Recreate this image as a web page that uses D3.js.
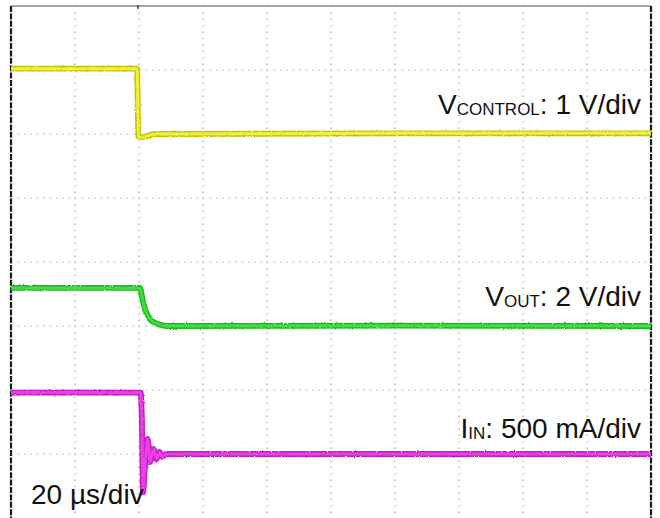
<!DOCTYPE html>
<html>
<head>
<meta charset="utf-8">
<script src="https://cdn.jsdelivr.net/npm/d3@7/dist/d3.min.js"></script>
<style>
  html, body { margin: 0; padding: 0; background: #fff; }
  svg { display: block; }
  text { font-family: "Liberation Sans", Arial, sans-serif; fill: #111; }
</style>
</head>
<body>
<svg id="scope" width="660" height="518"></svg>
<script>
// Time base: 10 divisions of 20 µs; vertical: 8 divisions
const timeDivisions = 10;
const usPerDiv = 20;
const verticalDivisions = 8;

// VCONTROL (1 V/div, ground at division 6)
const controlTimeUs = [0, 39.4, 39.8, 41, 45, 120, 200];
const controlVolts  = [1.02, 1.02, -0.04, -0.05, 0.0, 0.01, 0.01];

// VOUT (2 V/div, ground at division 3)
const outTimeUs = [0, 40.3, 40.9, 41.6, 42.5, 43.4, 45, 46.6, 48.8, 120, 200];
const outVolts  = [1.19, 1.19, 0.94, 0.62, 0.38, 0.22, 0.10, 0.04, 0.0, 0.01, 0.0];

// IIN (500 mA/div, ground at division 1)
const inTimeUs = [0, 40.5, 40.9, 41.25, 41.9, 42.7, 43.5, 44.5, 45.5, 46.4, 47.3, 48.4, 120, 200];
const inAmps   = [0.48, 0.48, 0.27, -0.30, -0.086, 0.117, -0.0625, 0.039, -0.039, 0.016, -0.023, 0.0, 0.0, 0.0];

const channels = [
  { name: "V", sub: "CONTROL", scaleText: ": 1 V/div",    perDiv: 1,   ground: 6, t: controlTimeUs, v: controlVolts, outer: "#c2c012", inner: "#f2f23c", labelDiv: 6.31 },
  { name: "V", sub: "OUT",     scaleText: ": 2 V/div",    perDiv: 2,   ground: 3, t: outTimeUs,     v: outVolts,     outer: "#20b520", inner: "#40e040", labelDiv: 3.31 },
  { name: "I", sub: "IN",      scaleText: ": 500 mA/div", perDiv: 0.5, ground: 1, t: inTimeUs,      v: inAmps,       outer: "#c01cc0", inner: "#e640e6", labelDiv: 1.25 }
];

const svg = d3.select("#scope");
const frame = { left: 11, right: 651, top: 6, bottom: 518 };

const x = d3.scaleLinear().domain([0, timeDivisions * usPerDiv]).range([frame.left, frame.right]);
const yDiv = d3.scaleLinear().domain([0, verticalDivisions]).range([frame.bottom, frame.top]);

// Rough edge texture for the phosphor-like traces
const defs = svg.append("defs");
const fuzz = defs.append("filter").attr("id", "fuzz")
  .attr("x", "-2%").attr("y", "-20%").attr("width", "104%").attr("height", "140%");
fuzz.append("feTurbulence").attr("type", "fractalNoise")
  .attr("baseFrequency", "0.9 0.45").attr("numOctaves", 2).attr("seed", 3).attr("result", "n");
fuzz.append("feDisplacementMap").attr("in", "SourceGraphic").attr("in2", "n")
  .attr("scale", 2.4).attr("xChannelSelector", "R").attr("yChannelSelector", "G");

// Graticule
const grid = svg.append("g").attr("class", "grid");
grid.selectAll("line.v")
  .data(d3.range(1, timeDivisions).map(i => i * usPerDiv))
  .join("line")
  .attr("x1", d => x(d)).attr("x2", d => x(d))
  .attr("y1", frame.top).attr("y2", frame.bottom)
  .attr("stroke", "#a0a0a0").attr("stroke-width", 1.2)
  .attr("stroke-dasharray", "1.3 5.1");
grid.selectAll("line.h")
  .data(d3.range(1, verticalDivisions))
  .join("line")
  .attr("x1", frame.left).attr("x2", frame.right)
  .attr("y1", d => yDiv(d)).attr("y2", d => yDiv(d))
  .attr("stroke", "#a0a0a0").attr("stroke-width", 1.2)
  .attr("stroke-dasharray", "1.3 5.1");

// Frame
svg.append("line").attr("x1", frame.left).attr("x2", frame.right).attr("y1", frame.top).attr("y2", frame.top)
  .attr("stroke", "#8a8a8a").attr("stroke-width", 1.5);
svg.append("line").attr("x1", frame.left).attr("x2", frame.left).attr("y1", frame.top).attr("y2", frame.bottom)
  .attr("stroke", "#1a1a1a").attr("stroke-width", 2.2).attr("stroke-dasharray", "6 1.4");
svg.append("line").attr("x1", frame.right).attr("x2", frame.right).attr("y1", frame.top).attr("y2", frame.bottom)
  .attr("stroke", "#1a1a1a").attr("stroke-width", 2.2).attr("stroke-dasharray", "6 1.4");
// trigger position marker on the top edge
svg.append("line").attr("x1", x(40) - 1).attr("x2", x(40) - 1).attr("y1", frame.top - 1).attr("y2", frame.top + 3)
  .attr("stroke", "#444").attr("stroke-width", 1.5);

// Traces
const traces = svg.append("g").attr("class", "traces");
channels.forEach(ch => {
  const pts = ch.t.map((t, i) => [t, ch.v[i]]);
  const line = d3.line()
    .x(d => x(d[0]))
    .y(d => yDiv(ch.ground + d[1] / ch.perDiv))
    .curve(d3.curveMonotoneX);
  const g = traces.append("g").attr("filter", "url(#fuzz)");
  g.append("path").attr("d", line(pts))
    .attr("fill", "none").attr("stroke", ch.outer).attr("stroke-width", 5.8)
    .attr("stroke-linejoin", "round").attr("stroke-linecap", "butt");
  g.append("path").attr("d", line(pts))
    .attr("fill", "none").attr("stroke", ch.inner).attr("stroke-width", 3)
    .attr("stroke-linejoin", "round").attr("stroke-linecap", "butt");
});

// Channel labels
channels.forEach(ch => {
  const t = svg.append("text")
    .attr("x", 641).attr("y", yDiv(ch.labelDiv))
    .attr("text-anchor", "end").attr("font-size", 28);
  t.append("tspan").text(ch.name);
  t.append("tspan").attr("font-size", 17).attr("dy", 1).text(ch.sub);
  t.append("tspan").attr("dy", -1).text(ch.scaleText);
});

// Time base label
svg.append("text").attr("x", 31).attr("y", 504).attr("font-size", 28).text("20 µs/div");
</script>
</body>
</html>
